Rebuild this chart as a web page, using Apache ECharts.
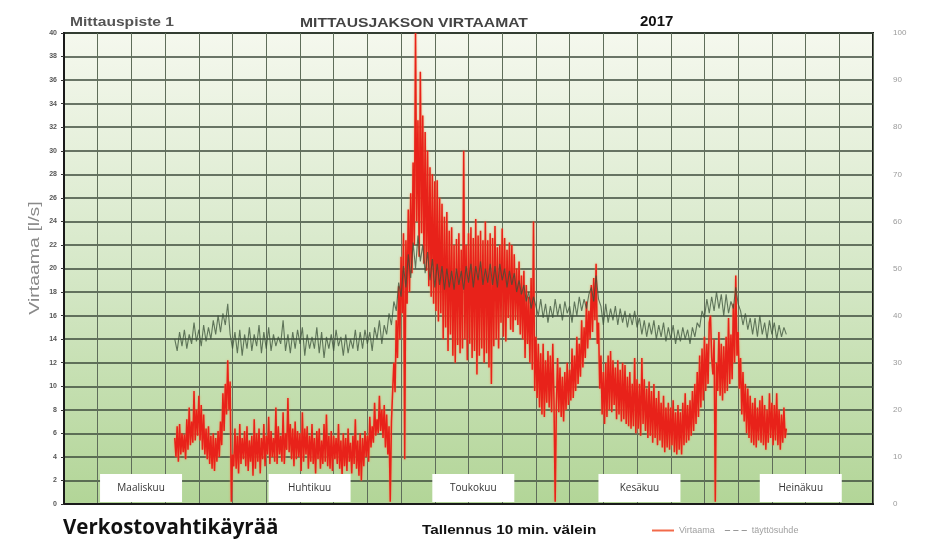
<!DOCTYPE html>
<html>
<head>
<meta charset="utf-8">
<script src="https://cdn.jsdelivr.net/npm/echarts@6/dist/echarts.min.js"></script>
<style>
  html, body { margin: 0; padding: 0; background: #fff; }
  #chart { width: 931px; height: 542px; }
</style>
</head>
<body>
<div id="chart"></div>
<script>
// virtaama l/s, samples every quarter day starting from day 23
const flowStart = 23
const flowStep = 0.25
const flowValues = [
  5.6, 4.0, 6.6, 3.6, 6.8, 4.2, 6.0, 4.4, 5.9, 3.8,
  7.2, 4.6, 8.2, 5.0, 7.0, 5.2, 9.6, 5.4, 8.0, 5.8,
  9.2, 5.4, 8.4, 4.6, 7.6, 4.2, 6.4, 3.8, 6.6, 3.4,
  5.8, 3.0, 6.0, 2.8, 5.6, 3.6, 6.2, 4.0, 7.0, 5.0,
  9.4, 6.2, 10.2, 7.6, 12.2, 8.0, 10.4, 0.2, 4.2, 3.2,
  6.4, 3.0, 5.8, 2.6, 6.8, 3.4, 5.6, 3.8, 6.2, 3.2,
  6.6, 2.8, 5.4, 3.6, 5.8, 2.4, 7.2, 3.0, 6.0, 3.6,
  6.4, 2.6, 5.6, 3.8, 6.8, 3.2, 5.8, 4.2, 7.4, 3.4,
  6.2, 4.0, 5.6, 3.6, 8.2, 3.4, 6.6, 4.2, 5.8, 3.6,
  7.8, 3.4, 6.0, 4.6, 9.0, 4.4, 6.8, 3.8, 6.4, 3.2,
  7.0, 3.8, 6.2, 4.0, 6.0, 2.8, 7.8, 3.6, 6.4, 4.2,
  6.6, 3.0, 5.8, 3.6, 6.8, 3.4, 5.6, 2.6, 6.2, 3.8,
  6.4, 3.0, 5.4, 3.4, 6.8, 3.6, 7.6, 3.2, 5.8, 3.0,
  6.2, 2.8, 5.8, 3.8, 5.6, 3.4, 6.8, 3.0, 5.4, 2.4,
  6.0, 3.2, 5.6, 2.8, 6.4, 3.6, 5.2, 2.6, 5.8, 3.4,
  7.2, 3.0, 5.4, 2.4, 6.0, 2.0, 5.6, 3.2, 6.2, 4.0,
  5.8, 3.6, 7.4, 4.8, 6.6, 5.2, 8.6, 5.8, 7.2, 6.0,
  9.2, 6.2, 8.0, 5.6, 8.4, 4.8, 7.6, 4.2, 6.6, 0.2,
  7.0, 9.6, 12.0, 9.5, 15.6, 12.4, 18.5, 14.0, 21.0, 16.2,
  23.0, 3.8, 22.4, 17.0, 25.0, 18.0, 26.4, 19.6, 29.0, 22.0,
  40, 24.0, 32.6, 21.0, 36.7, 23.0, 33.0, 20.4, 31.6, 19.8,
  30.0, 18.5, 28.6, 17.6, 28.0, 17.0, 27.4, 16.4, 27.5, 15.5,
  26.0, 16.2, 25.5, 14.0, 24.4, 15.0, 24.8, 13.0, 23.2, 14.4,
  23.5, 12.6, 22.0, 12.0, 22.5, 13.5, 23.0, 12.8, 21.6, 13.2,
  30.0, 14.0, 22.0, 12.2, 23.0, 13.6, 23.5, 12.4, 22.6, 13.0,
  24.2, 11.0, 22.8, 12.6, 23.2, 13.2, 22.4, 12.0, 24.0, 12.8,
  22.4, 11.6, 23.0, 10.2, 22.6, 13.4, 23.6, 14.0, 21.8, 13.2,
  22.0, 15.4, 23.4, 14.2, 22.6, 13.8, 21.6, 15.8, 22.2, 14.8,
  22.0, 14.6, 21.2, 15.6, 20.0, 15.2, 20.6, 14.4, 19.4, 14.0,
  19.8, 12.4, 18.6, 13.6, 17.6, 12.0, 19.2, 11.4, 24.0, 9.6,
  14.2, 9.0, 13.6, 8.2, 12.8, 7.6, 13.6, 7.4, 12.2, 8.6,
  13.0, 8.2, 12.6, 7.8, 13.6, 8.8, 0.2, 8.4, 12.4, 7.8,
  11.6, 7.4, 10.8, 7.0, 11.2, 8.0, 12.0, 8.4, 11.4, 8.8,
  13.2, 9.0, 12.6, 9.6, 14.2, 10.2, 13.6, 10.8, 15.6, 11.6,
  15.0, 12.4, 17.2, 13.2, 16.4, 14.0, 18.6, 14.6, 19.2, 15.6,
  20.4, 13.6, 15.4, 9.8, 12.6, 7.6, 11.2, 6.8, 12.0, 7.4,
  12.6, 8.0, 13.0, 7.8, 12.2, 8.4, 11.6, 7.2, 12.2, 7.6,
  11.4, 7.0, 12.0, 7.2, 11.8, 6.8, 10.8, 6.6, 11.2, 6.4,
  10.2, 6.6, 12.4, 6.0, 10.6, 6.4, 10.2, 5.8, 12.4, 6.8,
  10.6, 6.2, 9.8, 5.6, 10.4, 5.8, 9.6, 5.2, 10.2, 5.6,
  9.0, 5.0, 9.6, 5.4, 8.6, 4.8, 9.2, 4.4, 8.2, 4.8,
  8.6, 4.6, 8.2, 5.0, 8.8, 4.4, 7.8, 4.2, 8.4, 4.6,
  7.8, 4.2, 8.6, 5.0, 9.4, 5.2, 8.4, 5.4, 8.8, 5.8,
  9.6, 6.2, 10.2, 6.8, 11.2, 7.4, 12.6, 8.2, 13.2, 8.8,
  14.2, 9.6, 13.6, 10.2, 15.4, 16.0, 12.4, 11.0, 14.0, 0.2,
  12.0, 9.6, 14.6, 9.2, 13.6, 8.8, 13.4, 9.4, 14.2, 9.6,
  15.8, 10.2, 14.4, 10.6, 17.0, 12.0, 19.4, 12.6, 14.6, 9.8,
  12.4, 7.6, 11.2, 7.0, 10.2, 6.0, 9.8, 5.6, 9.2, 5.2,
  8.6, 5.0, 9.0, 4.8, 8.2, 5.4, 8.8, 5.2, 9.2, 5.0,
  8.4, 4.6, 8.0, 5.2, 9.4, 5.6, 8.6, 5.0, 8.4, 5.4,
  9.4, 5.0, 8.0, 4.6, 7.6, 5.2, 8.2, 5.6, 6.4
]

// täyttösuhde %, samples every half day starting from day 23
const fillStart = 23
const fillStep = 0.5
const fillValues = [
  35, 32.5, 36.5, 33.5, 37, 33, 36, 34, 38.5, 34.5,
  37, 33.5, 38, 34.5, 37.5, 35, 39, 36, 40, 36.5,
  40.5, 38, 42.5, 36, 33, 36.5, 32, 37, 31.5, 36,
  33, 37.5, 32.5, 36, 33.5, 38, 32, 36.5, 33, 37.5,
  32.5, 36, 33.5, 35.5, 34, 39, 32.5, 36, 32, 36.5,
  33, 37, 34, 37.5, 31.5, 36, 33, 35.5, 33, 37.5,
  32, 36.5, 31, 35.5, 33, 36, 32.5, 37, 33.5, 35.5,
  31.5, 36, 32, 35, 33, 37, 32.5, 36.5, 33, 37,
  34, 36.5, 32.5, 37.5, 35, 39, 34, 38, 36, 40.5,
  38, 43, 41, 47, 44, 50.5, 46, 53, 48, 55.5,
  50, 57, 51.5, 55, 49, 53.5, 47.5, 52, 46, 51,
  46.5, 50.5, 45.5, 50, 46, 49.5, 45.5, 50, 46.5, 49.5,
  45.5, 50.5, 47, 51, 46, 50.5, 47.5, 51.5, 46.5, 50,
  47, 51, 46.5, 50.5, 46, 51, 47.5, 50, 46, 49.5,
  46.5, 49, 45, 47.5, 44.5, 46.5, 43, 45, 41.5, 44,
  42, 40, 43.5, 39.5, 42.5, 38.5, 42, 39.5, 43.5, 40,
  42.5, 39, 43, 40.5, 42, 38.5, 43, 40, 44, 41,
  43.5, 41.5, 44.5, 46, 43, 48.5, 43.5, 42, 38, 42.5,
  38.5, 41.5, 39, 42, 38, 41.5, 38.5, 41, 37.5, 40.5,
  38, 41, 37.5, 39.5, 36, 39, 35.5, 38.5, 36, 39,
  35, 38, 35.5, 38.5, 34.5, 37.5, 35, 38, 34, 37,
  34.5, 37.5, 35, 37, 34, 37.5, 35.5, 38.5, 37.5, 41,
  39.5, 43.5, 40.5, 44, 41, 45, 41.5, 44.5, 40, 44.5,
  40.5, 43, 41.5, 46, 42.5, 41, 38, 40.5, 37, 39.5,
  36, 39.5, 35.5, 40, 36, 38.5, 35, 39, 36, 38.5,
  35, 38, 35.5, 37.5, 36
]

const months = ['Maaliskuu', 'Huhtikuu', 'Toukokuu', 'Kesäkuu', 'Heinäkuu']
const monthDays = [16, 51, 85, 119.5, 153]

const chart = echarts.init(document.getElementById('chart'))

const flowData = flowValues.map((v, i) => [flowStart + i * flowStep, v])
const fillData = fillValues.map((v, i) => [fillStart + i * fillStep, v])
const monthData = months.map((m, i) => ({ name: m, value: [monthDays[i], 1.36] }))

const font = "'Liberation Sans', Arial, sans-serif"

chart.setOption({
  animation: false,
  backgroundColor: '#fff',
  textStyle: { fontFamily: font },
  legend: {
    left: 652,
    top: 526,
    padding: 0,
    itemWidth: 22,
    itemHeight: 8,
    itemGap: 10,
    textStyle: { fontSize: 9, color: '#a0a0a0' },
    data: [
      { name: 'Virtaama', icon: 'path://M0,0 L22,0 L22,2 L0,2 Z', itemStyle: { color: '#f26a4a' } },
      { name: 'täyttösuhde', icon: 'path://M0,0 L5,0 L5,1 L0,1 Z M8,0 L13,0 L13,1 L8,1 Z M16,0 L21,0 L21,1 L16,1 Z', itemStyle: { color: '#999' } }
    ]
  },
  graphic: [
    {
      type: 'text', x: 70, y: 16, scaleX: 1.2,
      style: { text: 'Mittauspiste 1', fontSize: 13, fontWeight: 'bold', fill: '#555', fontFamily: font }
    },
    {
      type: 'text', x: 300, y: 16, scaleX: 1.16,
      style: { text: 'MITTAUSJAKSON VIRTAAMAT', fontSize: 13.5, fontWeight: 'bold', fill: '#444', fontFamily: font }
    },
    {
      type: 'text', x: 640, y: 14,
      style: { text: '2017', fontSize: 15, fontWeight: 'bold', fill: '#111', fontFamily: font }
    },
    {
      type: 'text', x: 63, y: 518,
      style: { text: 'Verkostovahtikäyrää', fontSize: 20.5, fontWeight: 'bold', fill: '#111', fontFamily: 'Open Sans' }
    },
    {
      type: 'text', x: 422, y: 524, scaleX: 1.22,
      style: { text: 'Tallennus 10 min. välein', fontSize: 12.5, fontWeight: 'bold', fill: '#111', fontFamily: font }
    },
    {
      type: 'text', x: 35, y: 258, rotation: Math.PI / 2, scaleX: 1.3,
      style: {
        text: 'Virtaama [l/s]', fontSize: 15, fill: '#8a8a8a',
        align: 'center', verticalAlign: 'middle', fontFamily: font
      }
    }
  ],
  grid: {
    show: true,
    left: 64,
    top: 33,
    right: 58,
    bottom: 38,
    borderColor: '#1a1a1a',
    borderWidth: 2,
    backgroundColor: new echarts.graphic.LinearGradient(0, 0, 0, 1, [
      { offset: 0, color: '#f5f8ee' },
      { offset: 0.5, color: '#d6e8c8' },
      { offset: 1, color: '#b2d597' }
    ])
  },
  xAxis: {
    type: 'value',
    min: 0,
    max: 168,
    interval: 7,
    axisLabel: { show: false },
    axisTick: { show: false },
    axisLine: { show: true, lineStyle: { color: '#1a1a1a', width: 2 } },
    splitLine: { show: true, lineStyle: { color: '#5f6d5a', width: 1 } }
  },
  yAxis: [
    {
      type: 'value',
      min: 0,
      max: 40,
      interval: 2,
      axisLine: { show: true, lineStyle: { color: '#1a1a1a', width: 2 } },
      axisTick: { show: true, length: 3, lineStyle: { color: '#333' } },
      axisLabel: { fontSize: 7, color: '#555', margin: 7, fontWeight: 'bold' },
      splitLine: { show: true, lineStyle: { color: '#3d4a3b', width: 1.5 } }
    },
    {
      type: 'value',
      min: 0,
      max: 100,
      interval: 10,
      position: 'right',
      axisLine: { show: false },
      axisTick: { show: false },
      axisLabel: { fontSize: 8, color: '#9a9a9a', margin: 20 },
      splitLine: { show: false }
    }
  ],
  series: [
    {
      name: 'Virtaama',
      type: 'line',
      data: flowData,
      symbol: 'none',
      z: 2,
      lineStyle: {
        color: '#e8221a',
        width: 1.5,
        shadowColor: 'rgba(245, 140, 80, 0.9)',
        shadowBlur: 2
      },
      itemStyle: { color: '#e8221a' }
    },
    {
      name: 'täyttösuhde',
      type: 'line',
      yAxisIndex: 1,
      data: fillData,
      symbol: 'none',
      z: 3,
      lineStyle: { color: '#3a4f38', width: 1.1, opacity: 0.75 },
      itemStyle: { color: '#3a4f38' }
    },
    {
      name: 'kuukausi',
      type: 'scatter',
      data: monthData,
      symbol: 'rect',
      symbolSize: [82, 28],
      z: 5,
      silent: true,
      itemStyle: { color: '#ffffff', opacity: 1 },
      label: {
        show: true,
        position: 'inside',
        formatter: '{b}',
        fontSize: 10,
        color: '#333',
        fontFamily: 'Open Sans'
      }
    }
  ]
})
</script>
</body>
</html>
